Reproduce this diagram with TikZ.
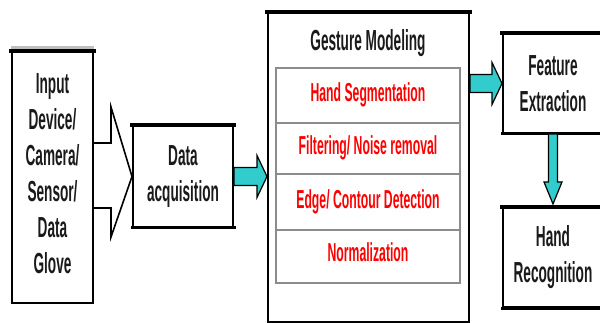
\documentclass[tikz,border=0pt]{standalone}
\usepackage{fontspec}
\setmainfont{Liberation Sans}[FakeStretch=0.47]
\usetikzlibrary{calc}
\definecolor{arrowcyan}{HTML}{33CCCC}
\definecolor{txtdark}{HTML}{1A1A1A}
\definecolor{rowgray}{HTML}{8C8C8C}
\begin{document}
\begin{tikzpicture}[x=1pt,y=-1pt,
  box/.style={draw=black,line width=2pt,fill=white,inner sep=0pt,
    font=\fontsize{29}{36}\selectfont\bfseries,text=txtdark,align=center},
  rowbox/.style={draw=rowgray,line width=1.2pt,inner sep=0pt,minimum width=184pt},
  redtxt/.style={font=\fontsize{26}{30}\selectfont\bfseries,text=red,inner sep=0pt},
  titletxt/.style={font=\fontsize{29}{36}\selectfont\bfseries,text=txtdark,inner sep=0pt},
  blockarrow/.style={fill=arrowcyan,draw=black,line width=1.2pt,line join=miter},
  callout/.style={fill=white,draw=black,line width=1.6pt,line join=miter},
  topedge/.style={line width=3.5pt,draw=black,line cap=rect}
]
\useasboundingbox (0,0) rectangle (600,323);
\clip (0,0) rectangle (600,323);

% boxes
\node[box,minimum width=81pt,minimum height=251pt] (inp) at (52.5,177.5) {};
\node[titletxt,align=center] (inptxt) at (52.5,174) {Input\\Device/\\Camera/\\Sensor/\\Data\\Glove};
\node[box,minimum width=100pt,minimum height=101pt] (daq) at (183,176.5) {Data\\acquisition};
\node[box,minimum width=201pt,minimum height=309pt] (gm) at (368.5,167.5) {};
\node[box,minimum width=100pt,minimum height=99pt] (feat) at (553,83.5) {Feature\\Extraction};
\node[box,minimum width=100pt,minimum height=99pt] (hr) at (553,257.5) {Hand\\Recognition};

% thick top edges
\draw[draw=black!25,line width=3pt] ($(inp.north west)+(0,-3)$) -- ($(inp.north east)+(0,-3)$);
\foreach \n in {inp,daq,gm,feat,hr}{
  \draw[topedge] (\n.north west) -- (\n.north east);
}
\draw[topedge,line width=3pt] (daq.south west) -- (daq.south east);
\draw[topedge,line width=3pt] (feat.south west) -- (feat.south east);
\draw[topedge,line width=3pt] (hr.south west) -- (hr.south east);

% gesture modeling content
\node[titletxt] (gmtitle) at (368,43) {Gesture Modeling};
\node[rowbox,minimum height=55pt] (r1) at (368,95.5) {};
\node[rowbox,minimum height=51pt] (r2) at (368,148.5) {};
\node[rowbox,minimum height=56pt] (r3) at (368,202) {};
\node[rowbox,minimum height=53pt] (r4) at (368,256.5) {};
\node[redtxt] (t1) at (368,95) {Hand Segmentation};
\node[redtxt] (t2) at (368,148) {Filtering/ Noise removal};
\node[redtxt] (t3) at (368,202) {Edge/ Contour Detection};
\node[redtxt] (t4) at (368,252) {Normalization};

% callout arrow from input to data acquisition
\draw[callout] ($(inp.east |- 0,143)$) -- (111,143) -- (111,107)
  -- (daq.west) -- (111,237) -- (111,208) -- ($(inp.east |- 0,208)$);

% block arrows
\coordinate (a1s) at (daq.east);
\coordinate (a1t) at (gm.west |- daq.east);
\draw[blockarrow] ($(a1s)+(0,-9)$) -- ($(a1t)+(-10,-9)$) -- ($(a1t)+(-10,-21)$)
  -- (a1t) -- ($(a1t)+(-10,21)$) -- ($(a1t)+(-10,9)$) -- ($(a1s)+(0,9)$) -- cycle;

\coordinate (a2s) at (gm.east |- feat.west);
\coordinate (a2t) at (feat.west);
\draw[blockarrow] ($(a2s)+(0,-9)$) -- ($(a2t)+(-10,-9)$) -- ($(a2t)+(-10,-21)$)
  -- (a2t) -- ($(a2t)+(-10,21)$) -- ($(a2t)+(-10,9)$) -- ($(a2s)+(0,9)$) -- cycle;

\coordinate (a3s) at (feat.south);
\coordinate (a3t) at ($(hr.north)+(0,-3)$);
\draw[blockarrow] ($(a3s)+(-4.5,0)$) -- ($(a3t)+(-4.5,-22)$) -- ($(a3t)+(-9,-22)$)
  -- (a3t) -- ($(a3t)+(9,-22)$) -- ($(a3t)+(4.5,-22)$) -- ($(a3s)+(4.5,0)$) -- cycle;
\end{tikzpicture}
\end{document}
